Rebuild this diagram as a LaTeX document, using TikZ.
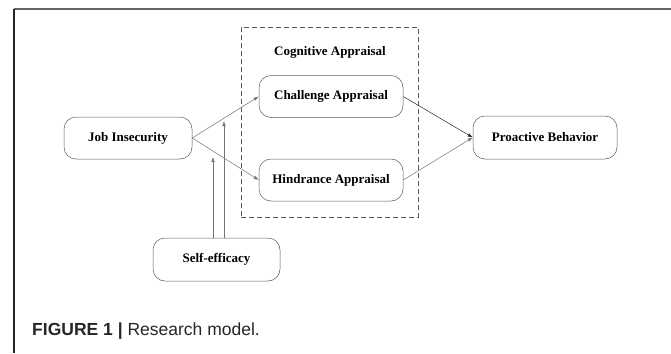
\documentclass[tikz,border=0pt]{standalone}
\usepackage{fontspec}
\setmainfont{Liberation Serif}
\newfontfamily\captionfont{Liberation Sans}
\usetikzlibrary{positioning}
\usetikzlibrary{arrows.meta}
\tikzset{
	construct/.style={
		draw=black!65, rounded corners=12pt, line width=0.5pt,
		minimum height=42pt, minimum width=144pt, inner sep=0pt,
		font=\fontsize{13}{15}\selectfont\bfseries
	},
	appraisal box/.style={
		draw=black!65, line width=0.9pt, dash pattern=on 5pt off 3pt,
		minimum width=177pt, minimum height=190pt, inner sep=0pt
	},
	path to/.style={
		draw=black!55, line width=0.5pt, -{Latex[length=5pt,width=3.5pt]}
	}
}

\begin{document}
\begin{tikzpicture}[x=1pt, y=-1pt, node distance=41pt]
	\useasboundingbox (0,0) rectangle (671,353);
	\draw[black!60, line width=2pt] (14,9) -- (671,9);
	\draw[black!85, line width=1.2pt] (14,9) -- (14,353);

	\node[appraisal box] (Cognitive-Box) at (329.5,122) {};
	\node[font=\fontsize{13}{15}\selectfont\bfseries] (Cognitive-Appraisal) at (330,52) {Cognitive Appraisal};

	\node[construct, minimum width=128pt] (Job-Insecurity) at (128,138) {Job Insecurity};
	\node[construct] (Challenge-Appraisal) at (331,96.5) {Challenge Appraisal};
	\node[construct, below=of Challenge-Appraisal] (Hindrance-Appraisal) {Hindrance Appraisal};
	\node[construct, minimum height=43pt] (Proactive-Behavior) at (545,137.5) {Proactive Behavior};
	\node[construct, minimum width=127pt, minimum height=43pt] (Self-efficacy) at (216.5,259.5) {Self-efficacy};

	\draw[path to] (Job-Insecurity.east) -- (Challenge-Appraisal.west);
	\draw[path to] (Job-Insecurity.east) -- (Hindrance-Appraisal.west);
	\draw[path to, draw=black!85] (Challenge-Appraisal.east) -- (Proactive-Behavior.west);
	\draw[path to] (Hindrance-Appraisal.east) -- (Proactive-Behavior.west);

	\coordinate (mod-Challenge) at (224,121);
	\coordinate (mod-Hindrance) at (213,157);
	\draw[path to] (Self-efficacy.north -| mod-Challenge) -- (mod-Challenge);
	\draw[path to] (Self-efficacy.north -| mod-Hindrance) -- (mod-Hindrance);

	\node[anchor=base west, inner sep=0pt, text=black!85, font=\captionfont\fontsize{17.5}{20}\selectfont] (Caption) at (32,335) {\textbf{FIGURE 1 |} Research model.};
\end{tikzpicture}
\end{document}
